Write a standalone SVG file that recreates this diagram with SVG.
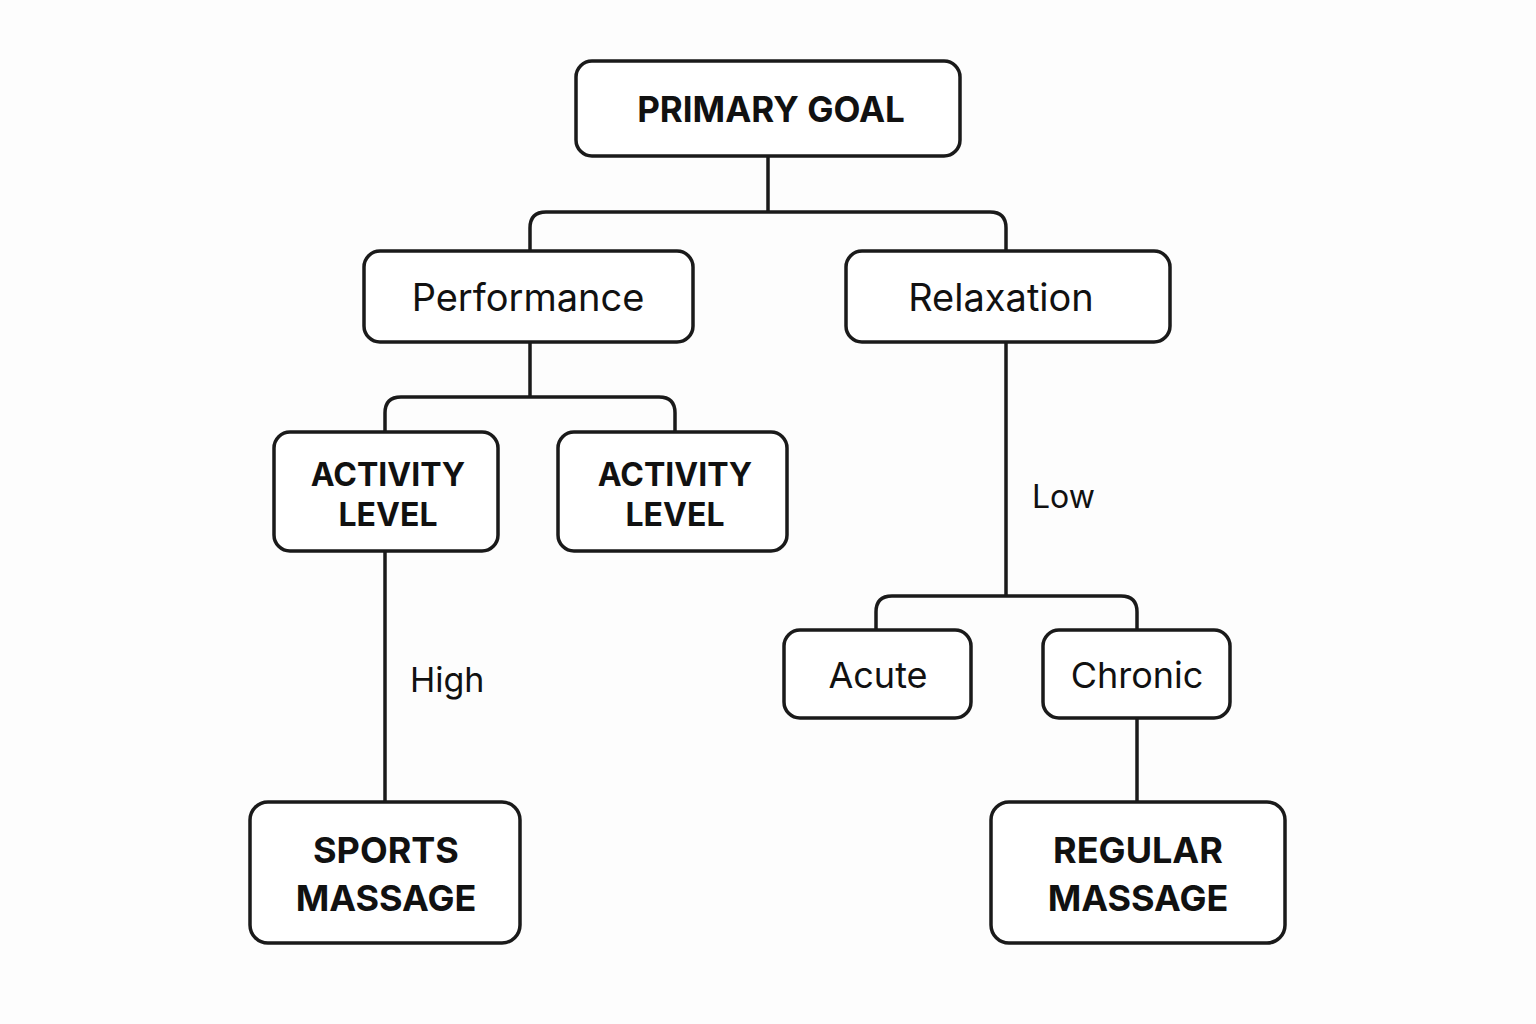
<svg xmlns="http://www.w3.org/2000/svg" width="1536" height="1024" viewBox="0 0 1536 1024">
<style>
.box{fill:#fff;stroke:#1a1a1a;stroke-width:3.5}
.ln{fill:none;stroke:#1a1a1a;stroke-width:3.5}
.b{font-family:"Inter","Liberation Sans",sans-serif;font-weight:700;fill:#111;text-anchor:middle;dominant-baseline:central}
.r{font-family:"Inter","Liberation Sans",sans-serif;font-weight:400;fill:#111;text-anchor:middle;dominant-baseline:central}
.lbl{font-family:"Inter","Liberation Sans",sans-serif;font-weight:400;fill:#111;dominant-baseline:central}
</style>
<rect width="1536" height="1024" fill="#fdfdfd"/>
<g id="connectors">
<path class="ln" d="M768 156V212M530 251V228Q530 212 546 212H990Q1006 212 1006 228V251"/>
<path class="ln" d="M530 342V397M385 432V413Q385 397 401 397H659Q675 397 675 413V432"/>
<path class="ln" d="M385 551V802"/>
<path class="ln" d="M1006 342V596M876 630V612Q876 596 892 596H1121Q1137 596 1137 612V630"/>
<path class="ln" d="M1137 718V802"/>
<text class="lbl" x="410" y="679" font-size="34">High</text>
<text class="lbl" x="1032" y="496" font-size="32">Low</text>
</g>
<g id="primary"><rect class="box" x="576" y="61" width="384" height="95" rx="16"/><text class="b" x="771" y="109" font-size="35">PRIMARY GOAL</text></g>
<g id="performance"><rect class="box" x="364" y="251" width="329" height="91" rx="16"/><text class="r" x="528" y="297" font-size="38">Performance</text></g>
<g id="relaxation"><rect class="box" x="846" y="251" width="324" height="91" rx="16"/><text class="r" x="1001" y="297" font-size="38">Relaxation</text></g>
<g id="activity1"><rect class="box" x="274" y="432" width="224" height="119" rx="16"/><text class="b" x="388" y="474" font-size="32">ACTIVITY</text><text class="b" x="388" y="514" font-size="32">LEVEL</text></g>
<g id="activity2"><rect class="box" x="558" y="432" width="229" height="119" rx="16"/><text class="b" x="675" y="474" font-size="32">ACTIVITY</text><text class="b" x="675" y="514" font-size="32">LEVEL</text></g>
<g id="acute"><rect class="box" x="784" y="630" width="187" height="88" rx="16"/><text class="r" x="878" y="675" font-size="36">Acute</text></g>
<g id="chronic"><rect class="box" x="1043" y="630" width="187" height="88" rx="16"/><text class="r" x="1137" y="675" font-size="36">Chronic</text></g>
<g id="sports"><rect class="box" x="250" y="802" width="270" height="141" rx="18"/><text class="b" x="386" y="850" font-size="36">SPORTS</text><text class="b" x="386" y="898" font-size="36">MASSAGE</text></g>
<g id="regular"><rect class="box" x="991" y="802" width="294" height="141" rx="18"/><text class="b" x="1138" y="850" font-size="36">REGULAR</text><text class="b" x="1138" y="898" font-size="36">MASSAGE</text></g>
</svg>
